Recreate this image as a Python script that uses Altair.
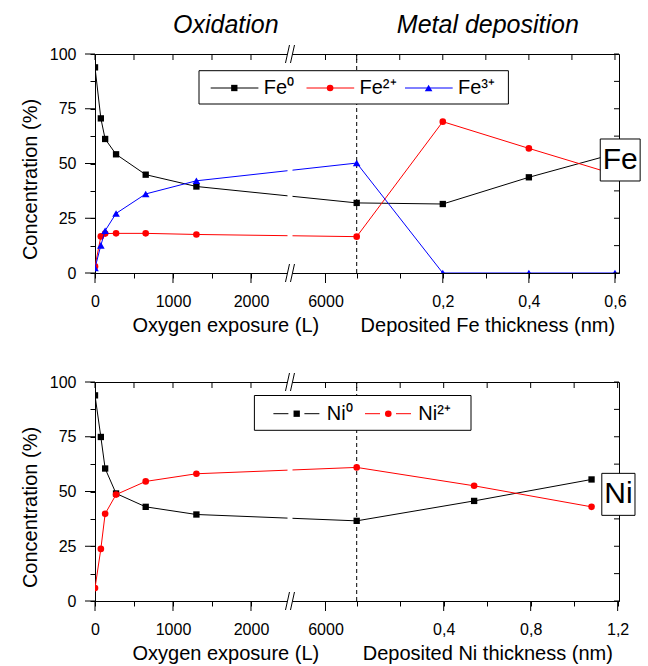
import json
import altair as alt
import pandas as pd

FONT = "Liberation Sans"

# ---------------- data ----------------
# oxidation step: oxygen exposure (Langmuir)
exposure_L = [0, 75, 130, 270, 650, 1300, 6400]

# Fe panel
fe_names = ["Fe⁰", "Fe²⁺", "Fe³⁺"]
fe_colors = ["#000000", "#ff0000", "#0000ff"]
fe_shapes = ["square", "circle", "triangle-up"]
fe_sizes = [40, 44, 58]
fe0_oxidation = [93.9, 70.6, 61.2, 54.2, 44.9, 39.5, 32.0]
fe2_oxidation = [3.0, 16.7, 18.0, 18.1, 18.1, 17.6, 16.6]
fe3_oxidation = [2.3, 12.6, 19.3, 27.2, 36.1, 42.1, 50.2]
fe_thickness_nm = [0.2, 0.4, 0.6]
fe0_deposition = [31.5, 43.7, 54.5]
fe2_deposition = [69.1, 56.9, 45.0]
fe3_deposition = [0.0, 0.0, 0.0]

# Ni panel
ni_names = ["Ni⁰", "Ni²⁺"]
ni_colors = ["#000000", "#ff0000"]
ni_shapes = ["square", "circle"]
ni_sizes = [40, 44]
ni0_oxidation = [93.9, 74.9, 60.5, 49.1, 43.0, 39.5, 36.6]
ni2_oxidation = [5.9, 23.8, 39.8, 48.6, 54.6, 58.1, 61.0]
ni_thickness_nm = [0.54, 1.08]
ni0_deposition = [45.7, 55.5]
ni2_deposition = [52.6, 43.0]

# axis ticks
exposure_major_ticks = [0, 1000, 2000, 6000]
exposure_minor_ticks = [500, 1500]
fe_major_ticks = [0.2, 0.4, 0.6]
fe_minor_ticks = [0.0, 0.1, 0.3, 0.5]
ni_major_ticks = [0.4, 0.8, 1.2]
ni_minor_ticks = [0.0, 0.2, 0.6, 1.0]
conc_major_ticks = [0, 25, 50, 75, 100]
conc_minor_ticks = [12.5, 37.5, 62.5, 87.5]

# ---------------- broken-axis geometry ----------------
BREAK_L = 2500          # first segment ends here
SEG2_START_L = 5545     # second segment starts here
FE_U_PER_NM = 5519
NI_U_PER_NM = 2788
U_MAX = 6718
PLOT_W, PLOT_H = 524, 219
PX = U_MAX / PLOT_W     # axis units per pixel
PY = 100 / PLOT_H       # % per pixel


def u_ox(L):
    return float(L) if L <= BREAK_L else float(BREAK_L + (L - SEG2_START_L))


U_DASH = u_ox(exposure_L[-1])
U_BREAK = float(BREAK_L)


def u_t(t, per_nm):
    return round(U_DASH + t * per_nm, 3)


def ux(px):   # horizontal pixel offset inside the plot -> axis units
    return px * PX


def cy(py):   # vertical pixel offset from plot top -> %
    return 100.0 - py * PY


def x_ticks(per_nm, major_t, minor_t):
    vals, labels, majors = [], [], []
    for L in exposure_major_ticks:
        vals.append(u_ox(L)); labels.append(str(L)); majors.append(u_ox(L))
    for L in exposure_minor_ticks:
        vals.append(u_ox(L)); labels.append("")
    for t in major_t:
        u = u_t(t, per_nm)
        vals.append(u); labels.append(f"{t:.1f}".replace(".", ",")); majors.append(u)
    for t in minor_t:
        vals.append(u_t(t, per_nm)); labels.append("")
    return vals, labels, majors


def make_panel(names, colors, shapes, sizes, ox_series, thick, dep_series,
               per_nm, major_t, minor_t, leg_box, leg_row, leg_x0, gap,
               tag, tag_y, tag_shape, tag_dx, x_titles, top_titles):
    rows = []
    for name, oxv, depv in zip(names, ox_series, dep_series):
        k = 0
        for L, v in zip(exposure_L, oxv):
            rows.append({"series": name, "u": u_ox(L), "c": v, "k": k}); k += 1
        for t, v in zip(thick, depv):
            rows.append({"series": name, "u": u_t(t, per_nm), "c": v, "k": k}); k += 1
    df = pd.DataFrame(rows)

    xs = alt.Scale(domain=[0, U_MAX], nice=False, zero=False)
    ys = alt.Scale(domain=[0, 100], nice=False, zero=False)
    vals, labels, majors = x_ticks(per_nm, major_t, minor_t)
    vj, lj = json.dumps(vals), json.dumps(labels)
    conc_vals = sorted(conc_major_ticks + conc_minor_ticks)

    x_axis = alt.Axis(
        values=vals, labelExpr=f"{lj}[indexof({vj}, datum.value)]", tickSize=5,
        title=None, grid=False, labelFontSize=16, labelFont=FONT, labelColor="black",
        tickColor="black", domainColor="black", labelPadding=15, labelFlush=False,
        labelOverlap=False)
    y_axis = alt.Axis(
        values=conc_vals,
        labelExpr="datum.value % 25 === 0 ? format(datum.value, 'd') : ''", tickSize=5,
        title="Concentration (%)", titleFontSize=20, titleFont=FONT, titleFontWeight="normal",
        titleColor="black", titleX=-64.5, titleY=125, titleBaseline="middle",
        grid=False, labelFontSize=16, labelFont=FONT, labelColor="black", labelPadding=14,
        tickColor="black", domainColor="black", labelFlush=False, labelOverlap=False)

    def enc(xf, yf, x2=None, y2=None):
        e = {"x": alt.X(xf, scale=xs, axis=x_axis), "y": alt.Y(yf, scale=ys, axis=y_axis)}
        if x2:
            e["x2"] = alt.X2(x2)
        if y2:
            e["y2"] = alt.Y2(y2)
        return e

    base = alt.Chart(df)
    layers = []

    dash_df = pd.DataFrame({"u": [U_DASH], "lo": [0.0], "hi": [100.0]})
    layers.append(alt.Chart(dash_df).mark_rule(strokeDash=[4, 3], color="black", strokeWidth=1)
                  .encode(**enc("u:Q", "lo:Q", y2="hi:Q")))

    for name, shp, sz, col in zip(names, shapes, sizes, colors):
        sub = base.transform_filter(alt.datum.series == name)
        layers.append(sub.mark_line(strokeWidth=1, clip=True, color=col)
                      .encode(order="k:Q", **enc("u:Q", "c:Q")))
        layers.append(sub.mark_point(shape=shp, size=sz, color=col, filled=True, opacity=1,
                                     clip=True).encode(**enc("u:Q", "c:Q")))

    # longer outward major ticks (bottom, left) and inward ticks on top and right frame
    bt = pd.DataFrame({"u": majors, "a": [0.0] * len(majors), "b": [-10 * PY] * len(majors)})
    layers.append(alt.Chart(bt).mark_rule(color="black", strokeWidth=1)
                  .encode(**enc("u:Q", "a:Q", y2="b:Q")))
    lt = pd.DataFrame({"c": conc_major_ticks, "a": [0.0] * len(conc_major_ticks),
                       "b": [-10 * PX] * len(conc_major_ticks)})
    layers.append(alt.Chart(lt).mark_rule(color="black", strokeWidth=1)
                  .encode(**enc("a:Q", "c:Q", x2="b:Q")))
    tt_df = pd.DataFrame({"u": vals, "a": [100.0] * len(vals), "b": [100.0 - 6 * PY] * len(vals)})
    layers.append(alt.Chart(tt_df).mark_rule(color="black", strokeWidth=1)
                  .encode(**enc("u:Q", "a:Q", y2="b:Q")))
    rt = pd.DataFrame({"c": conc_vals, "a": [float(U_MAX)] * len(conc_vals),
                       "b": [U_MAX - 5 * PX] * len(conc_vals)})
    layers.append(alt.Chart(rt).mark_rule(color="black", strokeWidth=1)
                  .encode(**enc("a:Q", "c:Q", x2="b:Q")))

    # axis break: white gap + double slashes
    mask_df = pd.DataFrame({"u1": [U_BREAK - 2.5 * PX], "u2": [U_BREAK + 2.5 * PX],
                            "lo": [-2.0], "hi": [102.0]})
    layers.append(alt.Chart(mask_df).mark_rect(color="white")
                  .encode(**enc("u1:Q", "lo:Q", x2="u2:Q", y2="hi:Q")))
    srows = []
    for level in (0.0, 100.0):
        for a, b in ((-4.5, -0.5), (0.5, 4.5)):
            srows.append({"x1": U_BREAK + a * PX, "x2": U_BREAK + b * PX,
                          "y1": level - 9 * PY, "y2": level + 9 * PY})
    layers.append(alt.Chart(pd.DataFrame(srows)).mark_rule(color="black", strokeWidth=1)
                  .encode(**enc("x1:Q", "y1:Q", x2="x2:Q", y2="y2:Q")))

    # legend (box, line + marker glyphs, labels)
    bx0, by0, bx1, by1 = leg_box
    box_df = pd.DataFrame({"a": [ux(bx0)], "b": [ux(bx1)], "c0": [cy(by0)], "c1": [cy(by1)]})
    layers.append(alt.Chart(box_df).mark_rect(fill="white", stroke="black", strokeWidth=1)
                  .encode(**enc("a:Q", "c0:Q", x2="b:Q", y2="c1:Q")))
    ly = cy(leg_row)
    for name, shp, sz, col, x0 in zip(names, shapes, sizes, colors, leg_x0):
        if gap:
            segs = [(x0, x0 + 15), (x0 + 31, x0 + 46)]
            mx, tx = x0 + 23.3, x0 + 53.3
        else:
            segs = [(x0, x0 + 47.7)]
            mx, tx = x0 + 23.6, x0 + 53
        seg_df = pd.DataFrame({"a": [ux(s[0]) for s in segs], "b": [ux(s[1]) for s in segs],
                               "c": [ly] * len(segs)})
        layers.append(alt.Chart(seg_df).mark_rule(color=col, strokeWidth=1)
                      .encode(**enc("a:Q", "c:Q", x2="b:Q")))
        m_df = pd.DataFrame({"a": [ux(mx)], "c": [ly], "t": [ux(tx)], "label": [name]})
        layers.append(alt.Chart(m_df).mark_point(shape=shp, size=sz, color=col, filled=True,
                                                 opacity=1).encode(**enc("a:Q", "c:Q")))
        layers.append(alt.Chart(m_df).mark_text(fontSize=20, font=FONT, color="black",
                                                align="left", baseline="middle")
                      .encode(text="label:N", **enc("t:Q", "c:Q")))

    # element tag box at the right edge
    tag_df = pd.DataFrame({"u": [float(U_MAX)], "c": [tag_y], "label": [tag]})
    layers.append(alt.Chart(tag_df).mark_point(shape=tag_shape, size=1764, fill="white",
                                               stroke="black", strokeWidth=1, opacity=1,
                                               fillOpacity=1, xOffset=tag_dx)
                  .encode(**enc("u:Q", "c:Q")))
    layers.append(alt.Chart(tag_df).mark_text(fontSize=30, font=FONT, color="black",
                                              align="center", baseline="middle", dx=tag_dx)
                  .encode(text="label:N", **enc("u:Q", "c:Q")))

    seg_centers = [U_DASH / 2, (U_DASH + U_MAX) / 2]
    layers.append(alt.Chart(pd.DataFrame({"label": x_titles, "u": seg_centers})).mark_text(
        fontSize=20, font=FONT, color="black", baseline="alphabetic", align="center").encode(
        x=alt.X("u:Q", scale=xs, axis=x_axis), y=alt.value(278), text="label:N"))
    if top_titles:
        layers.append(alt.Chart(pd.DataFrame({"label": top_titles, "u": seg_centers})).mark_text(
            fontSize=25, font=FONT, fontStyle="italic", color="black", baseline="alphabetic",
            align="center").encode(
            x=alt.X("u:Q", scale=xs, axis=x_axis), y=alt.value(-21), text="label:N"))
    return alt.layer(*layers).properties(width=PLOT_W, height=PLOT_H)


top = make_panel(
    fe_names, fe_colors, fe_shapes, fe_sizes,
    [fe0_oxidation, fe2_oxidation, fe3_oxidation], fe_thickness_nm,
    [fe0_deposition, fe2_deposition, fe3_deposition], FE_U_PER_NM,
    fe_major_ticks, fe_minor_ticks,
    (104.0, 16.7, 413.4, 50.0), 34.0, [115.7, 211.5, 310.0], False,
    "Fe", 51.6, "M-0.95,-1H0.95V1H-0.95Z", 1.2,
    ["Oxygen exposure (L)", "Deposited Fe thickness (nm)"],
    ["Oxidation", "Metal deposition"])

bottom = make_panel(
    ni_names, ni_colors, ni_shapes, ni_sizes,
    [ni0_oxidation, ni2_oxidation], ni_thickness_nm,
    [ni0_deposition, ni2_deposition], NI_U_PER_NM,
    ni_major_ticks, ni_minor_ticks,
    (159.4, 13.5, 376.0, 48.3), 31.7, [178.4, 270.0], True,
    "Ni", 48.7, "M-0.79,-1H0.79V1H-0.79Z", -0.6,
    ["Oxygen exposure (L)", "Deposited Ni thickness (nm)"],
    None)

chart = alt.vconcat(top, bottom, spacing=35).properties(
    padding={"left": 19, "top": 12, "right": 5, "bottom": 5}, background="white"
).configure_view(stroke="black", strokeWidth=1).configure_axis(
    tickWidth=1, domainWidth=1, labelFont=FONT
)

chart.save("out.html", embed_options={"renderer": "svg", "actions": False})
